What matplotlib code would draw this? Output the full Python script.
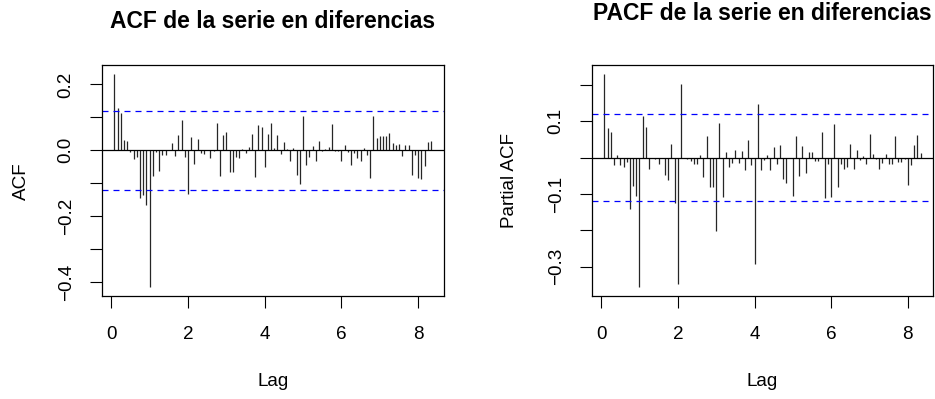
"""ACF and PACF of the differenced series, side by side, R-style base graphics look."""
import numpy as np
import matplotlib
matplotlib.use("Agg")
import matplotlib.pyplot as plt

plt.rcParams["font.family"] = ["Liberation Sans", "DejaVu Sans"]

# monthly series -> lags in years (k / 12), k = 1..100
lag_index = np.arange(1, 101)
freq = 12

acf_vals = [
    0.233, 0.130, 0.113, 0.032, 0.027, -0.004, -0.025, -0.019, -0.145, -0.135,
    -0.166, -0.416, -0.078, -0.004, -0.063, -0.014, -0.014, 0.000, 0.022, -0.016,
    0.046, 0.092, -0.021, -0.132, 0.041, -0.042, 0.034, -0.009, -0.012, 0.002,
    -0.022, -0.001, 0.083, -0.077, 0.046, 0.055, -0.065, -0.065, -0.020, -0.023,
    0.004, -0.008, 0.010, 0.050, -0.082, 0.078, 0.072, -0.052, 0.049, 0.083,
    0.008, 0.046, -0.011, 0.024, 0.004, -0.031, 0.008, -0.075, -0.101, 0.104,
    -0.043, -0.020, 0.014, -0.031, 0.028, -0.003, 0.004, 0.011, 0.081, -0.003,
    -0.003, -0.032, 0.015, -0.006, -0.045, -0.008, -0.023, -0.033, 0.007, -0.013,
    -0.084, 0.103, 0.038, 0.044, 0.044, 0.045, 0.052, 0.022, 0.016, 0.020,
    -0.018, 0.015, 0.017, -0.075, -0.013, -0.083, -0.087, -0.046, 0.026, 0.027,
]

pacf_vals = [
    0.231, 0.080, 0.070, -0.019, 0.006, -0.019, -0.026, -0.011, -0.142, -0.078,
    -0.105, -0.356, 0.115, 0.083, -0.032, -0.002, -0.004, -0.017, -0.001, -0.048,
    -0.062, 0.037, -0.125, -0.347, 0.201, -0.002, -0.005, -0.008, -0.018, -0.018,
    0.008, -0.054, 0.059, -0.081, -0.081, -0.201, 0.096, -0.108, 0.016, -0.025,
    -0.016, 0.022, -0.016, 0.019, -0.034, 0.048, -0.021, -0.292, 0.148, -0.034,
    -0.006, 0.006, -0.034, 0.030, -0.018, 0.036, -0.059, -0.071, -0.001, -0.105,
    0.059, -0.050, 0.032, -0.043, 0.015, 0.015, -0.008, -0.010, 0.070, -0.111,
    -0.017, -0.107, 0.092, -0.081, -0.017, -0.032, -0.026, 0.037, -0.030, 0.020,
    -0.006, 0.005, -0.017, 0.064, 0.009, -0.004, -0.030, -0.014, 0.010, -0.018,
    -0.017, 0.060, -0.013, -0.011, -0.005, -0.075, -0.020, 0.036, 0.061, 0.013,
]

conf = 0.12  # 1.96 / sqrt(n)

x_ticks = [0, 2, 4, 6, 8]

W, H = 935, 399
FS = 13.6


def r_limits(vals, extra=()):
    allv = list(vals) + list(extra)
    lo, hi = min(allv), max(allv)
    pad = 0.04 * (hi - lo)
    return lo - pad, hi + pad


def fmt(v):
    s = f"{abs(v):.1f}"
    return ("\u2212" + s) if v < -1e-9 else s


def corr_panel(ax, values, yticks, labelled):
    lags = lag_index / freq
    ax.vlines(lags, 0, values, color="#262626", linewidth=0.9)
    ax.axhline(0, color="black", linewidth=0.9)
    for c in (conf, -conf):
        ax.axhline(c, color="#0000ff", linewidth=0.9, linestyle=(0, (4.8, 4.0)))

    ax.set_xlim(*r_limits(lags))
    ax.set_ylim(*r_limits(values, (conf, -conf)))

    ax.set_xticks(x_ticks)
    ax.set_xticklabels([str(t) for t in x_ticks])
    ax.set_yticks(yticks)
    ax.set_yticklabels([fmt(t) if t in labelled else "" for t in yticks],
                       rotation=90, va="center")

    ax.tick_params(axis="both", direction="out", length=8.5, width=0.8,
                   labelsize=FS, color="black")
    ax.tick_params(axis="x", pad=13)
    ax.tick_params(axis="y", pad=11)
    for sp in ax.spines.values():
        sp.set_linewidth(0.9)
        sp.set_color("black")


def main():
    fig = plt.figure(figsize=(9.35, 3.99), dpi=100)

    ax1 = fig.add_axes([101.7 / W, 1 - 296 / H, 342 / W, 231 / H])
    ax2 = fig.add_axes([591.7 / W, 1 - 295.7 / H, 341.6 / W, 230.7 / H])

    acf_ticks = [-0.4, -0.3, -0.2, -0.1, 0.0, 0.1, 0.2]
    corr_panel(ax1, acf_vals, acf_ticks, (-0.4, -0.2, 0.0, 0.2))

    pacf_ticks = [-0.3, -0.2, -0.1, 0.0, 0.1, 0.2]
    corr_panel(ax2, pacf_vals, pacf_ticks, (-0.3, -0.1, 0.1))

    # axis titles, placed the way R's base graphics puts them
    fig.text(272.7 / W, 1 - 382 / H, "Lag", ha="center", va="center", fontsize=FS)
    fig.text(762.5 / W, 1 - 382 / H, "Lag", ha="center", va="center", fontsize=FS)
    fig.text(21.5 / W, 1 - 181 / H, "ACF", ha="center", va="center",
             rotation=90, fontsize=FS)
    fig.text(509.5 / W, 1 - 180 / H, "Partial ACF", ha="center", va="center",
             rotation=90, fontsize=FS)

    fig.text(272.7 / W, 1 - 21 / H, "ACF de la serie en diferencias",
             ha="center", va="center", fontsize=16.5, fontweight="bold")
    fig.text(762.5 / W, 1 - 13 / H, "PACF de la serie en diferencias",
             ha="center", va="center", fontsize=16.5, fontweight="bold")

    fig.savefig("out.png", dpi=100)


if __name__ == "__main__":
    main()
